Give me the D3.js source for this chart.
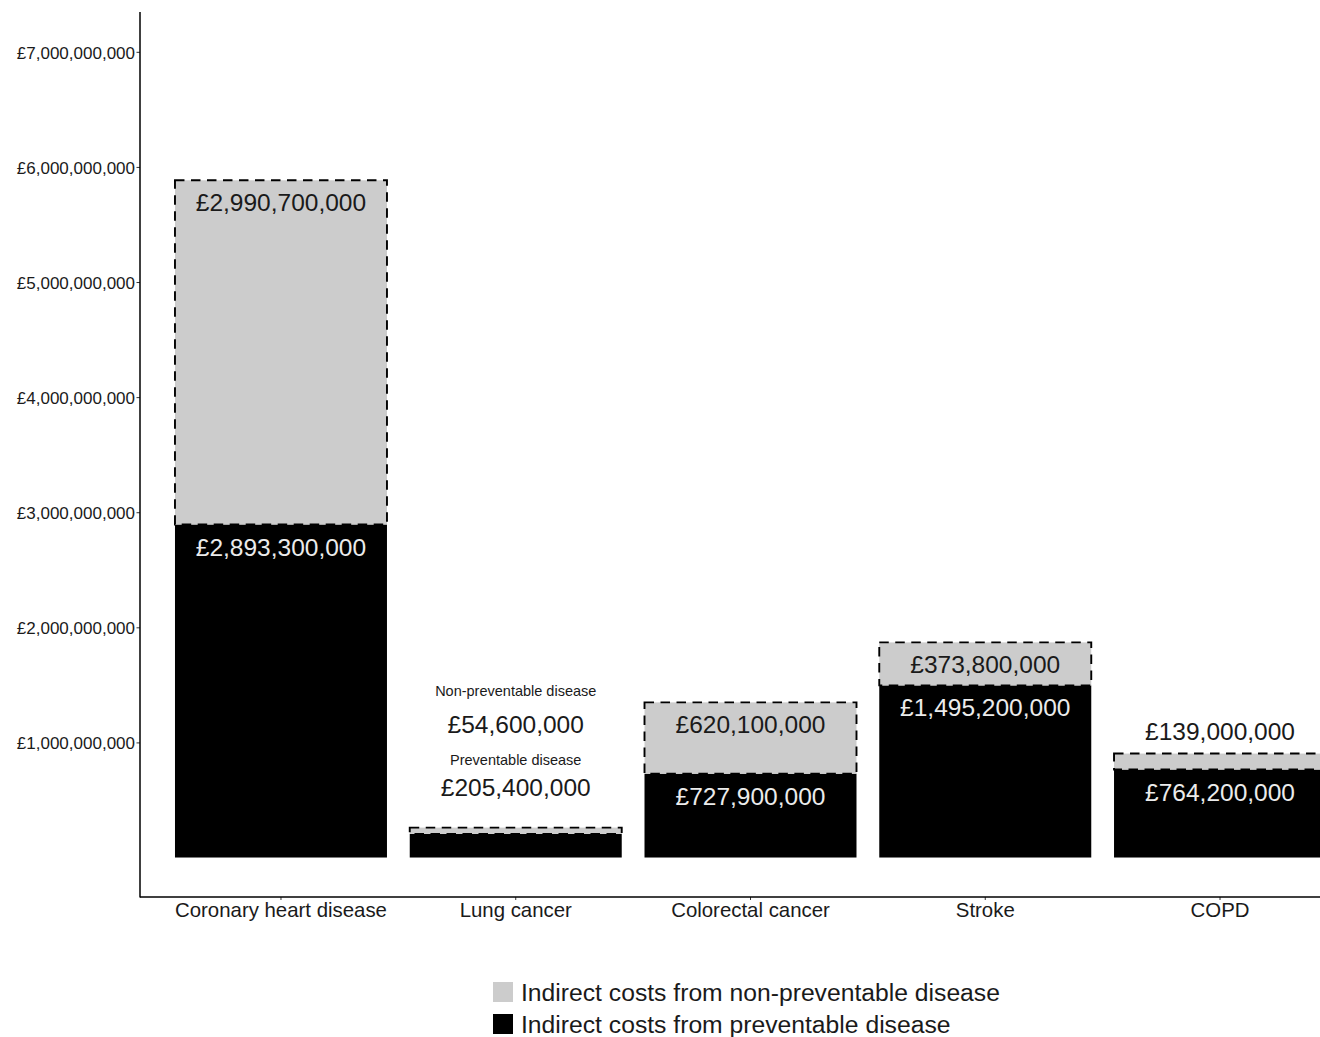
<!DOCTYPE html>
<html>
<head>
<meta charset="utf-8">
<script src="https://cdn.jsdelivr.net/npm/d3@7"></script>
<style>
  html, body { margin: 0; padding: 0; background: #ffffff; }
  svg { display: block; font-family: "Liberation Sans", Arial, sans-serif; }
</style>
</head>
<body>
<svg id="chart" width="1320" height="1037"></svg>
<script>
// Indirect costs by disease, split into preventable / non-preventable shares (GBP)
const categories = ["Coronary heart disease", "Lung cancer", "Colorectal cancer", "Stroke", "COPD"];
const preventable = [2893300000, 205400000, 727900000, 1495200000, 764200000];
const nonPreventable = [2990700000, 54600000, 620100000, 373800000, 139000000];
const yTicks = [1e9, 2e9, 3e9, 4e9, 5e9, 6e9, 7e9];
const legendLabels = ["Indirect costs from non-preventable disease", "Indirect costs from preventable disease"];
const captionLabels = ["Non-preventable disease", "Preventable disease"];

const W = 1320, H = 1037;
const svg = d3.select("#chart");

const plot = { left: 140, top: 12, bottom: 897, right: 1361 };

const x = d3.scaleBand()
  .domain(categories)
  .range([plot.left, plot.right])
  .paddingInner(0.097)
  .paddingOuter(0.149);

const y = d3.scaleLinear()
  .domain([-0.343e9, 7.346e9])
  .range([plot.bottom, plot.top]);

const pounds = v => "£" + d3.format(",")(v);

const GREY = "#cccccc";
const INK = "#1a1a1a";

const rows = categories.map((c, i) => ({
  cat: c,
  prev: preventable[i],
  non: nonPreventable[i],
  total: preventable[i] + nonPreventable[i]
}));

// Bars: preventable (black) at the bottom, non-preventable (grey, dashed outline) stacked on top
const g = svg.append("g");

g.selectAll("rect.prev")
  .data(rows)
  .join("rect")
  .attr("class", "prev")
  .attr("x", d => x(d.cat))
  .attr("width", x.bandwidth())
  .attr("y", d => y(d.prev))
  .attr("height", d => y(0) - y(d.prev))
  .attr("fill", "#000000");

g.selectAll("rect.non")
  .data(rows)
  .join("rect")
  .attr("class", "non")
  .attr("x", d => x(d.cat))
  .attr("width", x.bandwidth())
  .attr("y", d => y(d.total))
  .attr("height", d => y(d.prev) - y(d.total))
  .attr("fill", GREY)
  .attr("stroke", "#000000")
  .attr("stroke-width", 1.9)
  .attr("stroke-dasharray", "9.5,6.5");

// Value labels
const minInside = 40;
const big = 24.5, small = 14.5;
const labels = svg.append("g").attr("text-anchor", "middle");

rows.forEach(d => {
  const cx = x(d.cat) + x.bandwidth() / 2;
  const topAll = y(d.total);
  const topPrev = y(d.prev);
  const prevH = y(0) - topPrev;
  const nonH = topPrev - topAll;

  if (prevH < minInside) {
    // Both segments too thin: stacked captions above the bar
    const stack = [
      { t: captionLabels[0], size: small, off: -132 },
      { t: pounds(d.non), size: big, off: -94.6 },
      { t: captionLabels[1], size: small, off: -62.6 },
      { t: pounds(d.prev), size: big, off: -31.6 }
    ];
    stack.forEach(s => {
      labels.append("text")
        .attr("x", cx)
        .attr("y", topAll + s.off)
        .attr("font-size", s.size)
        .attr("fill", INK)
        .text(s.t);
    });
    return;
  }

  labels.append("text")
    .attr("x", cx)
    .attr("y", topPrev + 31)
    .attr("font-size", big)
    .attr("fill", "#ebebeb")
    .text(pounds(d.prev));

  labels.append("text")
    .attr("x", cx)
    .attr("y", nonH < minInside ? topAll - 14 : topAll + 31)
    .attr("font-size", big)
    .attr("fill", INK)
    .text(pounds(d.non));
});

// Axes
const yAxis = svg.append("g")
  .attr("transform", `translate(${plot.left},0)`)
  .call(d3.axisLeft(y).tickValues(yTicks).tickFormat(pounds).tickSize(3.5).tickPadding(1.5));
yAxis.select(".domain").remove();
yAxis.selectAll(".tick line").attr("stroke", "#333333");
yAxis.selectAll(".tick text")
  .attr("font-size", 17)
  .attr("fill", INK)
  .attr("font-family", "Liberation Sans, Arial, sans-serif")
  .attr("dy", "0.38em");

const xAxis = svg.append("g")
  .attr("transform", `translate(0,${plot.bottom})`)
  .call(d3.axisBottom(x).tickSize(3).tickPadding(0));
xAxis.select(".domain").remove();
xAxis.selectAll(".tick line").attr("stroke", "#333333");
xAxis.selectAll(".tick text")
  .attr("font-size", 20.4)
  .attr("fill", INK)
  .attr("font-family", "Liberation Sans, Arial, sans-serif")
  .attr("dy", null)
  .attr("y", 20);

// Axis lines
svg.append("line")
  .attr("x1", plot.left).attr("x2", plot.left)
  .attr("y1", plot.top).attr("y2", plot.bottom + 0.5)
  .attr("stroke", "#000000").attr("stroke-width", 1.5);
svg.append("line")
  .attr("x1", plot.left).attr("x2", W)
  .attr("y1", plot.bottom).attr("y2", plot.bottom)
  .attr("stroke", "#000000").attr("stroke-width", 1.5);

// Legend
const legendColors = [GREY, "#000000"];
const legend = svg.append("g").attr("transform", "translate(493,982)");
legendLabels.forEach((t, i) => {
  legend.append("rect")
    .attr("x", 0).attr("y", i * 32)
    .attr("width", 20).attr("height", 20)
    .attr("fill", legendColors[i]);
  legend.append("text")
    .attr("x", 28).attr("y", i * 32 + 19)
    .attr("font-size", 24.7)
    .attr("fill", INK)
    .text(t);
});
</script>
</body>
</html>
